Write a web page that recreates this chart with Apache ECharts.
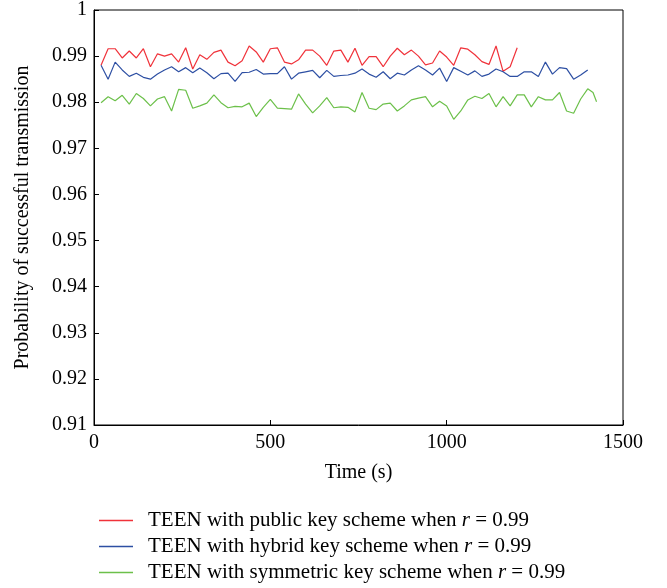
<!DOCTYPE html>
<html>
<head>
<meta charset="utf-8">
<script src="https://cdn.jsdelivr.net/npm/echarts@6/dist/echarts.min.js"></script>
<style>
  html, body { margin: 0; padding: 0; background: #fff; }
  #chart { width: 667px; height: 588px; }
</style>
</head>
<body>
<div id="chart"></div>
<script>
// sample times (s)
const times = [20, 40, 60, 80, 100, 120, 140, 160, 180, 200, 220, 240, 260, 280, 300, 320, 340, 360,
  380, 400, 420, 440, 460, 480, 500, 520, 540, 560, 580, 600, 620, 640, 660, 680, 700, 720,
  740, 760, 780, 800, 820, 840, 860, 880, 900, 920, 940, 960, 980, 1000, 1020, 1040, 1060, 1080,
  1100, 1120, 1140, 1160, 1180, 1200, 1220, 1240, 1260, 1280, 1300, 1320, 1340, 1360, 1380, 1400];
const greenTail = [1415, 1425];

const publicKey = [0.9880, 0.9916, 0.9916, 0.9896, 0.9911, 0.9896, 0.9916, 0.9877, 0.9905, 0.9900,
  0.9905, 0.9887, 0.9918, 0.9872, 0.9903, 0.9893, 0.9908, 0.9913, 0.9887, 0.9879,
  0.9890, 0.9922, 0.9909, 0.9887, 0.9916, 0.9918, 0.9887, 0.9883, 0.9892, 0.9913,
  0.9913, 0.9900, 0.9880, 0.9911, 0.9913, 0.9887, 0.9917, 0.9880, 0.9899, 0.9899,
  0.9877, 0.9900, 0.9917, 0.9903, 0.9913, 0.9900, 0.9881, 0.9885, 0.9911, 0.9898,
  0.9880, 0.9918, 0.9915, 0.9903, 0.9888, 0.9882, 0.9922, 0.9867, 0.9877, 0.9918];

const hybridKey = [0.9880, 0.9850, 0.9887, 0.9870, 0.9856, 0.9863, 0.9854, 0.9850, 0.9861, 0.9870,
  0.9877, 0.9866, 0.9875, 0.9864, 0.9874, 0.9864, 0.9851, 0.9862, 0.9863, 0.9845,
  0.9864, 0.9865, 0.9871, 0.9861, 0.9862, 0.9862, 0.9877, 0.9850, 0.9863, 0.9866,
  0.9869, 0.9853, 0.9869, 0.9856, 0.9858, 0.9859, 0.9863, 0.9872, 0.9861, 0.9854,
  0.9866, 0.9851, 0.9863, 0.9859, 0.9870, 0.9879, 0.9870, 0.9859, 0.9874, 0.9845,
  0.9875, 0.9867, 0.9859, 0.9868, 0.9856, 0.9861, 0.9872, 0.9866, 0.9856, 0.9856,
  0.9866, 0.9866, 0.9856, 0.9887, 0.9861, 0.9875, 0.9873, 0.9850, 0.9859, 0.9870];

const symmetricKey = [0.9799, 0.9812, 0.9803, 0.9815, 0.9796, 0.9819, 0.9808, 0.9792, 0.9807, 0.9812,
  0.9781, 0.9828, 0.9826, 0.9787, 0.9792, 0.9798, 0.9816, 0.9799, 0.9788, 0.9791,
  0.9790, 0.9798, 0.9769, 0.9789, 0.9806, 0.9787, 0.9786, 0.9785, 0.9818, 0.9796,
  0.9777, 0.9792, 0.9810, 0.9788, 0.9790, 0.9789, 0.9779, 0.9821, 0.9787, 0.9784,
  0.9796, 0.9798, 0.9781, 0.9792, 0.9805, 0.9809, 0.9812, 0.9790, 0.9802, 0.9792,
  0.9763, 0.9781, 0.9805, 0.9813, 0.9808, 0.9819, 0.9790, 0.9812, 0.9792, 0.9816,
  0.9816, 0.9790, 0.9812, 0.9805, 0.9805, 0.9821, 0.9781, 0.9776, 0.9807, 0.9829,
  0.9821, 0.9801];

const seriesNames = [
  'TEEN with public key scheme when r = 0.99',
  'TEEN with hybrid key scheme when r = 0.99',
  'TEEN with symmetric key scheme when r = 0.99'
];
const colors = ['#f0323a', '#2d4fa3', '#6cc04a'];

const font = 'Liberation Serif';
const pair = (xs, ys) => ys.map((v, i) => [xs[i], v]);
const greenTimes = times.concat(greenTail);
const seriesData = [
  pair(times, publicKey),
  pair(times, hybridKey),
  pair(greenTimes, symmetricKey)
];

const chart = echarts.init(document.getElementById('chart'));
chart.setOption({
  animation: false,
  backgroundColor: '#fff',
  textStyle: { fontFamily: font, color: '#000' },
  grid: {
    left: 94, right: 44, top: 9, bottom: 163,
    show: true, borderColor: '#000', borderWidth: 1
  },
  xAxis: {
    type: 'value', min: 0, max: 1500, interval: 500,
    name: 'Time (s)', nameLocation: 'middle', nameGap: 38,
    nameTextStyle: { fontFamily: font, fontSize: 20, color: '#000' },
    axisLine: { lineStyle: { color: '#000', width: 1 } },
    axisTick: { inside: true, length: 5, lineStyle: { color: '#000' } },
    axisLabel: {
      fontFamily: font, fontSize: 20, color: '#000', margin: 8,
      formatter: v => String(v)
    },
    splitLine: { show: false }
  },
  yAxis: {
    type: 'value', min: 0.91, max: 1, interval: 0.01,
    name: 'Probability of successful transmission', nameLocation: 'middle', nameGap: 61,
    nameTextStyle: { fontFamily: font, fontSize: 20, color: '#000' },
    axisLine: { show: true, lineStyle: { color: '#000', width: 1 } },
    axisTick: { show: true, inside: true, length: 5, lineStyle: { color: '#000' } },
    axisLabel: {
      fontFamily: font, fontSize: 20, color: '#000', margin: 7,
      formatter: v => (v >= 0.9999 ? '1' : v.toFixed(2))
    },
    splitLine: { show: false }
  },
  legend: {
    orient: 'vertical', left: 94, top: 505, height: 85,
    icon: 'rect', itemWidth: 34, itemHeight: 1.5, itemGap: 5,
    data: seriesNames,
    formatter: name => {
      const parts = name.split(' r ');
      return '{a|' + parts[0] + ' }{i|r}{a| ' + parts[1] + '}';
    },
    textStyle: {
      padding: [0, 0, 0, 10],
      rich: {
        a: { fontFamily: font, fontSize: 21, lineHeight: 21, color: '#000' },
        i: { fontFamily: font, fontSize: 21, lineHeight: 21, color: '#000', fontStyle: 'italic' }
      }
    }
  },
  series: seriesNames.map((name, k) => ({
    name: name,
    type: 'line',
    data: seriesData[k],
    symbol: 'none',
    showSymbol: false,
    color: colors[k],
    lineStyle: { color: colors[k], width: 1.2 }
  }))
});
</script>
</body>
</html>
